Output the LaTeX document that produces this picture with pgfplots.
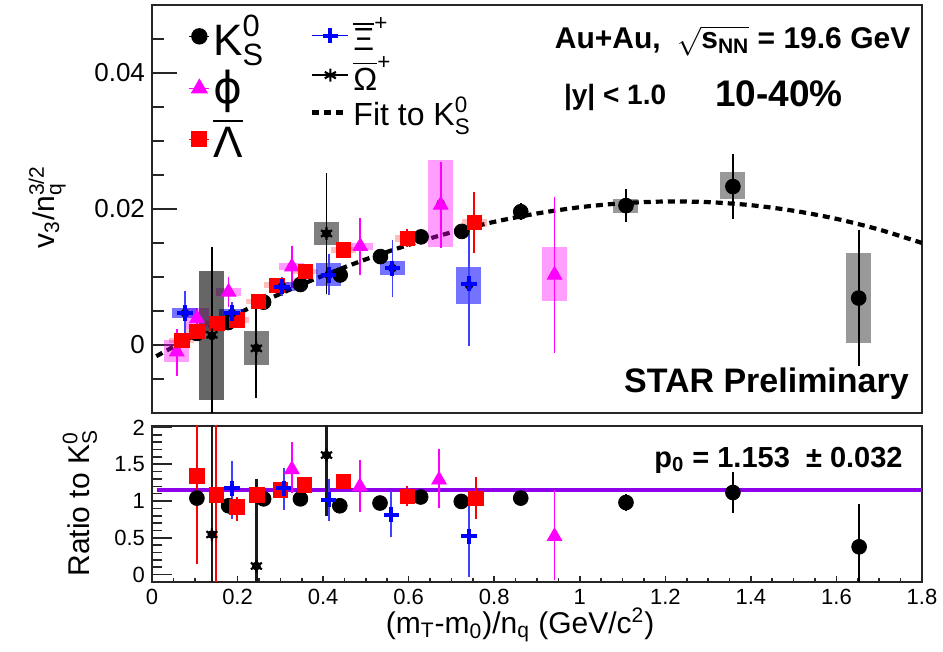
\documentclass[border=0pt]{standalone}
\usepackage{amsmath}
\usepackage{fontspec}
\setmainfont{Liberation Sans}
\newfontfamily\djv{DejaVu Sans}
\usepackage{pgfplots}
\pgfplotsset{compat=1.18}

\definecolor{phimag}{RGB}{255,0,255}
\definecolor{fitviolet}{RGB}{140,0,235}

\newcommand{\KS}{\text{K}^{\text{0}}_{\text{S}}}

\pgfplotsset{
  rootframe/.style={scale only axis, width=385pt,
    axis line style={line width=0.9pt, black!85},
    tick style={black!85, line width=0.8pt}, tick align=inside,
    /pgf/number format/assume math mode=true},
  sysbox/.style={only marks, mark=none, forget plot,
    error bars/y dir=both, error bars/y explicit, error bars/error mark=none,
    error bars/error bar style={line width=12.5pt, #1}},
  stat/.style={only marks, forget plot,
    error bars/y dir=both, error bars/y explicit,
    error bars/error bar style={line width=0.9pt, #1},
    error bars/error mark options={mark size=1.4pt, line width=0.9pt, #1}},
}

\begin{document}
\begin{tikzpicture}

% ---------- upper panel ----------
\begin{axis}[rootframe, at={(76pt,119.5pt)}, anchor=south west, height=204pt,
  xmin=0, xmax=1.8, ymin=-0.01, ymax=0.05,
  xtick=\empty, ytick pos=left,
  ytick={0,0.02,0.04}, yticklabels={0,0.02,0.04},
  minor ytick={-0.005,0.005,0.01,0.015,0.025,0.03,0.035,0.045},
  major tick length=12.5pt, minor tick length=6pt,
  yticklabel style={font=\fontsize{13}{13}\selectfont},
  ylabel={v$_{\text{3}}$/n$_{\text{q}}^{\text{3/2}}$},
  ylabel style={at={(axis description cs:-0.136,0.505)}, anchor=center,
    font=\fontsize{15}{15}\selectfont},
  legend image code/.code={\draw[mark repeat=2,mark phase=2,#1]
    plot coordinates {(0pt,0pt) (5pt,0pt) (10pt,0pt)};},
  legend cell align=left,
  legend style={draw=none, fill=none, at={(rel axis cs:0.047,0.985)},
    anchor=north west, inner sep=0pt, row sep=3pt,
    nodes={inner sep=1.5pt},
    font=\fontsize{22}{24}\selectfont},
]

% fit to K0S
\addplot[black, line width=2.1pt, dash pattern=on 3.5pt off 2.5pt, smooth, forget plot]
  coordinates {(0.01,-0.00165) (0.1,0.00142) (0.2,0.0046) (0.3,0.00753) (0.4,0.0102)
  (0.5,0.0126) (0.6,0.01473) (0.7,0.01657) (0.8,0.01811) (0.9,0.01934) (1.0,0.02026)
  (1.1,0.02085) (1.2,0.0211) (1.3,0.02101) (1.4,0.02056) (1.5,0.01974) (1.6,0.01855)
  (1.7,0.01697) (1.8,0.0150)};

% K0S
\addplot[sysbox={black, opacity=0.4}] coordinates {
  (1.108,0.02045) +- (0,0.0010) (1.358,0.0234) +- (0,0.0020) (1.652,0.00695) +- (0,0.00665)};
\addplot[stat=black, black, mark=*, mark size=3.7pt] coordinates {
  (0.105,0.0017) +- (0,0.0003) (0.178,0.0033) +- (0,0.0003) (0.261,0.0063) +- (0,0.0003)
  (0.347,0.0089) +- (0,0.0003) (0.440,0.0103) +- (0,0.0004) (0.534,0.0130) +- (0,0.0004)
  (0.629,0.0159) +- (0,0.0005) (0.724,0.0167) +- (0,0.0006) (0.862,0.0196) +- (0,0.0008)
  (1.108,0.0205) +- (0,0.0020) (1.358,0.0233) +- (0,0.0044) (1.652,0.0069) +- (0,0.0096)};

% phi
\addplot[sysbox={phimag, opacity=0.38}] coordinates {
  (0.058,-0.0009) +- (0,0.0016) (0.105,0.0039) +- (0,0.0015) (0.179,0.0078) +- (0,0.0006)
  (0.327,0.0115) +- (0,0.0005) (0.487,0.0145) +- (0,0.0005) (0.675,0.0208) +- (0,0.0064)
  (0.941,0.0104) +- (0,0.0040)};
\addplot[stat=phimag, phimag, mark=triangle*, mark size=4.2pt] coordinates {
  (0.058,-0.0010) += (0,0.0030) -= (0,0.0032) (0.105,0.0039) +- (0,0.0012)
  (0.179,0.0078) +- (0,0.0018) (0.327,0.0115) +- (0,0.0027) (0.487,0.0145) +- (0,0.0038)
  (0.675,0.0206) +- (0,0.0059) (0.941,0.0103) +- (0,0.0111)};

% anti-Lambda
\addplot[sysbox={red, opacity=0.25}] coordinates {
  (0.070,0.0007) +- (0,0.0004) (0.105,0.0020) +- (0,0.0004) (0.152,0.0032) +- (0,0.0004)
  (0.198,0.0037) +- (0,0.0004) (0.249,0.0064) +- (0,0.0004) (0.292,0.0088) +- (0,0.0004)
  (0.359,0.0108) +- (0,0.0004) (0.448,0.0140) +- (0,0.0004) (0.597,0.0157) +- (0,0.0005)
  (0.753,0.0180) +- (0,0.0006)};
\addplot[stat=red, red, mark=square*, mark size=3.6pt] coordinates {
  (0.070,0.0007) +- (0,0.0005) (0.105,0.0020) +- (0,0.0005) (0.152,0.0032) +- (0,0.0006)
  (0.198,0.0037) +- (0,0.0006) (0.249,0.0064) +- (0,0.0006) (0.292,0.0088) +- (0,0.0006)
  (0.359,0.0108) +- (0,0.0007) (0.448,0.0140) +- (0,0.0007) (0.597,0.0157) +- (0,0.0009)
  (0.753,0.0180) += (0,0.0041) -= (0,0.0040)};

% anti-Xi
\addplot[sysbox={blue, opacity=0.55}] coordinates {
  (0.077,0.0047) +- (0,0.0007) (0.187,0.0047) +- (0,0.0006) (0.304,0.0086) +- (0,0.0006)
  (0.413,0.01035) +- (0,0.0017) (0.562,0.0113) +- (0,0.0010) (0.741,0.0088) +- (0,0.0027)};
\addplot[stat={blue!75}, blue, mark=+, mark size=3.8pt, mark options={line width=2pt}] coordinates {
  (0.077,0.0047) += (0,0.0029) -= (0,0.0027) (0.187,0.0047) +- (0,0.0012)
  (0.304,0.0086) +- (0,0.0010) (0.413,0.0103) += (0,0.0027) -= (0,0.0025)
  (0.562,0.0113) += (0,0.0037) -= (0,0.0039) (0.741,0.0090) +- (0,0.0087)};

% anti-Omega
\addplot[sysbox={black, opacity=0.6}] coordinates {(0.140,0.00135) +- (0,0.0095)};
\addplot[sysbox={black, opacity=0.5}] coordinates {
  (0.244,-0.00045) +- (0,0.0025) (0.408,0.0164) +- (0,0.0017)};
\addplot[stat=black, black, mark=asterisk, mark size=3.2pt, mark options={line width=1.1pt}] coordinates {
  (0.140,0.0015) +- (0,0.0125) (0.244,-0.0005) +- (0,0.0069) (0.408,0.0164) +- (0,0.0085)};

% legend (left column)
\addlegendimage{black, mark=*, mark size=3.7pt, line width=0.8pt}
\addlegendentry{$\KS$}
\addlegendimage{phimag, mark=triangle*, mark size=4.2pt, line width=0.8pt}
\addlegendentry{{\djv ϕ}}
\addlegendimage{red, mark=square*, mark size=3.6pt, line width=0.8pt}
\addlegendentry{$\overline{\text{Λ}}$}

\node[anchor=base east, font=\bfseries\fontsize{15}{17}\selectfont]
  at (rel axis cs:0.994,0.893) {Au+Au,\ \ $\sqrt{\text{s}_{\text{NN}}}$ = 19.6 GeV};
\node[anchor=base west, font=\bfseries\fontsize{14}{16}\selectfont]
  at (rel axis cs:0.526,0.755) {|y| < 1.0};
\node[anchor=base west, font=\bfseries\fontsize{18.5}{20}\selectfont]
  at (rel axis cs:0.722,0.752) {10-40\%};
\node[anchor=base east, font=\bfseries\fontsize{17}{19}\selectfont]
  at (rel axis cs:0.992,0.051) {STAR Preliminary};
\end{axis}

% legend (right column), same frame
\begin{axis}[scale only axis, width=385pt, height=204pt, at={(76pt,119.5pt)},
  anchor=south west, hide axis, xmin=0, xmax=1, ymin=0, ymax=1,
  legend image code/.code={\draw[mark repeat=2,mark phase=2,#1]
    plot coordinates {(0pt,0pt) (9pt,0pt) (18pt,0pt)};},
  legend cell align=left,
  legend style={draw=none, fill=none, at={(rel axis cs:0.205,0.978)},
    anchor=north west, inner sep=0pt, row sep=-1.5pt,
    nodes={inner sep=1.5pt},
    font=\fontsize{16}{18}\selectfont},
]
\addlegendimage{blue, mark=+, mark size=3.8pt, line width=0.8pt, mark options={line width=2pt}}
\addlegendentry{$\overline{\text{Ξ}}^{\text{+}}$}
\addlegendimage{black, mark=asterisk, mark size=3.2pt, line width=0.8pt, mark options={line width=1.1pt}}
\addlegendentry{$\overline{\text{Ω}}^{\text{+}}$}
\addlegendimage{black, line width=2.1pt, dash pattern=on 3.5pt off 2.5pt}
\addlegendentry{Fit to $\KS$}
\end{axis}

% ---------- ratio panel ----------
\begin{axis}[rootframe, at={(76pt,35pt)}, anchor=south west, height=78pt,
  xmin=0, xmax=1.8, ymin=-0.1, ymax=2.02,
  xtick={0,0.2,0.4,0.6,0.8,1,1.2,1.4,1.6,1.8},
  xticklabels={0,0.2,0.4,0.6,0.8,1,1.2,1.4,1.6,1.8},
  minor xtick={0.05,0.1,0.15,0.25,0.3,0.35,0.45,0.5,0.55,0.65,0.7,0.75,0.85,0.9,0.95,
    1.05,1.1,1.15,1.25,1.3,1.35,1.45,1.5,1.55,1.65,1.7,1.75},
  ytick={0,0.5,1,1.5,2}, yticklabels={0,0.5,1,1.5,2},
  minor ytick={0.1,0.2,0.3,0.4,0.6,0.7,0.8,0.9,1.1,1.2,1.3,1.4,1.6,1.7,1.8,1.9},
  xtick pos=bottom, ytick pos=left,
  major tick length=10pt, minor tick length=5pt,
  xtick style={/pgfplots/major tick length=3pt, /pgfplots/minor tick length=2pt},
  ticklabel style={font=\fontsize{11}{11}\selectfont},
  xlabel={(m$_{\text{T}}$-m$_{\text{0}}$)/n$_{\text{q}}$ (GeV/c$^{\text{2}}$)},
  xlabel style={at={(axis description cs:0.478,-0.276)}, anchor=center,
    font=\fontsize{15}{15}\selectfont},
  ylabel={Ratio to $\KS$},
  ylabel style={at={(axis description cs:-0.0935,0.506)}, anchor=center,
    font=\fontsize{15}{15}\selectfont},
]
\addplot[fitviolet, line width=2pt, forget plot] coordinates {(0.012,1.153) (1.8,1.153)};

% anti-Omega: error lines, then stars
\addplot[sysbox={black!90, line width=1.2pt}] coordinates {
  (0.140,0.545) += (0,1.6) -= (0,0.7) (0.244,0.117) += (0,1.18) -= (0,0.25)
  (0.408,1.625) += (0,0.45) -= (0,0.83)};
\addplot[only marks, forget plot, black, mark=asterisk, mark size=3.2pt, mark options={line width=1.1pt}]
  coordinates {(0.140,0.545) (0.244,0.117) (0.408,1.625)};

\addplot[stat=black, black, mark=*, mark size=3.7pt] coordinates {
  (0.105,1.04) +- (0,0.14) (0.179,0.936) +- (0,0.04) (0.261,1.03) +- (0,0.03)
  (0.347,1.03) +- (0,0.03) (0.439,0.936) +- (0,0.03) (0.533,0.973) +- (0,0.03)
  (0.628,1.055) +- (0,0.03) (0.723,0.995) +- (0,0.035) (0.862,1.04) +- (0,0.04)
  (1.108,0.98) +- (0,0.08) (1.358,1.116) +- (0,0.24) (1.653,0.378) += (0,0.55) -= (0,0.5)};

\addplot[stat=phimag, phimag, mark=triangle*, mark size=4.2pt] coordinates {
  (0.327,1.43) += (0,0.33) -= (0,0.28) (0.486,1.197) += (0,0.32) -= (0,0.31)
  (0.671,1.288) += (0,0.38) -= (0,0.35) (0.941,0.52) += (0,0.59) -= (0,0.56)};

\addplot[stat=red, red, mark=square*, mark size=3.6pt] coordinates {
  (0.105,1.342) += (0,0.7) -= (0,1.16) (0.150,1.085) += (0,1.0) -= (0,1.2)
  (0.198,0.918) += (0,0.10) -= (0,0.15) (0.245,1.085) +- (0,0.04)
  (0.300,1.153) +- (0,0.07) (0.356,1.22) +- (0,0.04) (0.448,1.265) +- (0,0.04)
  (0.597,1.063) += (0,0.10) -= (0,0.09) (0.757,1.04) +- (0,0.25)};

\addplot[stat={blue!75}, blue, mark=+, mark size=3.8pt, mark options={line width=2pt}] coordinates {
  (0.187,1.175) += (0,0.33) -= (0,0.38) (0.308,1.175) += (0,0.23) -= (0,0.26)
  (0.413,1.018) +- (0,0.25) (0.559,0.815) += (0,0.285) -= (0,0.27)
  (0.741,0.52) +- (0,0.52)};

\node[anchor=base east, font=\bfseries\fontsize{14.5}{16}\selectfont]
  at (rel axis cs:0.984,0.737) {p$_{\text{0}}$ = 1.153 \ ± 0.032};
\end{axis}

\pgfresetboundingbox
\useasboundingbox (0,0) rectangle (471.5pt,326pt);
\end{tikzpicture}
\end{document}
